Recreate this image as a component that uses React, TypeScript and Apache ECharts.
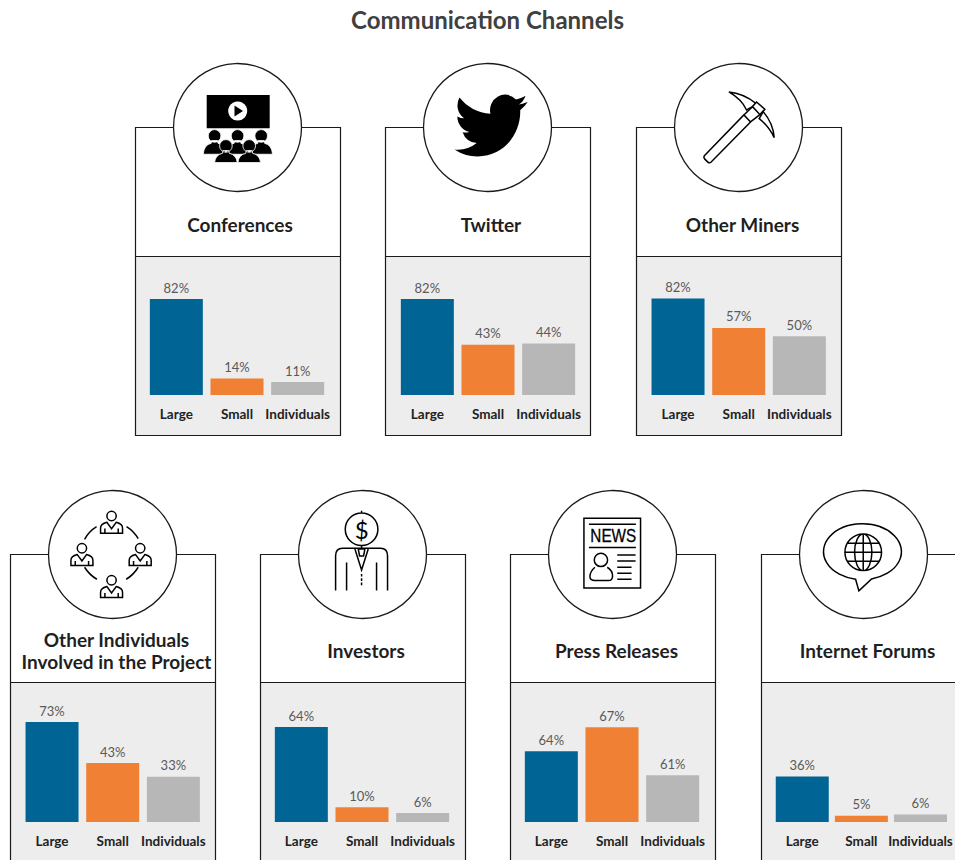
import React, { useEffect, useRef } from "react";
import * as echarts from "echarts";

const chartTitle = "Communication Channels";
const categories = ["Large", "Small", "Individuals"];
const panelTitles = [
  "Conferences",
  "Twitter",
  "Other Miners",
  "Other Individuals\nInvolved in the Project",
  "Investors",
  "Press Releases",
  "Internet Forums",
];
const conferences = [82, 14, 11];
const twitter = [82, 43, 44];
const otherMiners = [82, 57, 50];
const otherIndividuals = [73, 43, 33];
const investors = [64, 10, 6];
const pressReleases = [64, 67, 61];
const internetForums = [36, 5, 6];
const panelValues = [conferences, twitter, otherMiners, otherIndividuals, investors, pressReleases, internetForums];
const barColors = ["#006595", "#F08033", "#B7B7B7"];

// Each small chart in the reference has its own value scale.
const axisMin = [0, 0, 0, 0, 0, 55.15, 0];
const axisMax = [102.5, 102.5, 102, 87.6, 80.9, 70.15, 95];

// Layout
const panelLeft = [135, 385, 636, 10, 260, 510, 761];
const gridLeft = [146, 397, 647.7, 21.7, 271, 521, 772.7];
const titleCenter = [240, 491, 742.5, 116.5, 366, 616.5, 867.5];
const row = [0, 0, 0, 1, 1, 1, 1];
const rowTop = [127.5, 554.5];
const rowDivider = [256.5, 682.5];
const rowBase = [395, 822];
const rowTitleY = [224, 650];
const PANEL_W = 205;
const PANEL_H = 308;
const GRID_H = 120;
const R = 64;

const circle = (cx: number, cy: number, r: number) =>
  `M${cx - r} ${cy} A${r} ${r} 0 1 1 ${cx + r} ${cy} A${r} ${r} 0 1 1 ${cx - r} ${cy} Z `;

const solidPerson = (x: number, y: number, drop: number) =>
  circle(x, y, 19) +
  `M${x - 9} ${y + 14} L${x - 10} ${y + 22} Q${x - 32} ${y + 27} ${x - 34} ${y + drop} L${x + 34} ${y + drop} Q${x + 32} ${y + 27} ${x + 10} ${y + 22} L${x + 9} ${y + 14} Z`;

const outlinePerson = (x: number, y: number) =>
  circle(x, y, 14) +
  `M${x - 33} ${y + 52} L${x - 33} ${y + 36} Q${x - 33} ${y + 24} ${x - 14} ${y + 19} L${x} ${y + 38} L${x + 14} ${y + 19} Q${x + 33} ${y + 24} ${x + 33} ${y + 36} L${x + 33} ${y + 52} Z ` +
  `M${x - 20} ${y + 52} L${x - 20} ${y + 38} M${x + 20} ${y + 52} L${x + 20} ${y + 38} `;

const shapes: Record<string, string> = {
  backCrowd: solidPerson(254, 228, 55) + " " + solidPerson(394, 228, 55) + " " + solidPerson(323, 228, 55),
  frontCrowd: solidPerson(288, 258, 50) + " " + solidPerson(358, 258, 50),
  bird:
    "M23.953 4.57 a10 10 0 0 1 -2.825 .775 a4.958 4.958 0 0 0 2.163 -2.723 c-.951 .555 -2.005 .959 -3.127 1.184 a4.92 4.92 0 0 0 -8.384 4.482 C7.69 8.095 4.067 6.13 1.64 3.162 a4.822 4.822 0 0 0 -.666 2.475 c0 1.71 .87 3.213 2.188 4.096 a4.904 4.904 0 0 1 -2.228 -.616 v.06 a4.923 4.923 0 0 0 3.946 4.827 a4.996 4.996 0 0 1 -2.212 .085 a4.936 4.936 0 0 0 4.604 3.417 a9.867 9.867 0 0 1 -6.102 2.105 c-.39 0 -.779 -.023 -1.17 -.067 a13.995 13.995 0 0 0 7.557 2.209 c9.053 0 13.998 -7.496 13.998 -13.985 c0 -.21 0 -.42 -.015 -.63 A9.935 9.935 0 0 0 24 4.59 z",
  pickHandle:
    "M224 287 L342 165 L362 186 L243 307 Q238 311 233 306 L224 297 Q220 292 224 287 Z M342 165 L368 140 L390 164 L362 186 M368 140 L380 126 L405 148 L390 164",
  pickBlade:
    "M297 96 Q340 100 378 130 L368 140 L350 150 Q335 118 297 96 Z M400 155 Q430 190 433 233 Q418 200 388 176 Z",
  network:
    outlinePerson(335, 108) +
    outlinePerson(246, 205) +
    outlinePerson(421, 205) +
    outlinePerson(335, 301) +
    "M254 178 A105 105 0 0 1 290 140 M380 140 A105 105 0 0 1 415 176 M415 262 A105 105 0 0 1 379 298 M291 298 A105 105 0 0 1 254 262",
  investor:
    circle(275, 148, 49) +
    "M275 92 L275 99 M275 197 L275 204 " +
    "M197 332 L197 228 Q197 205 218 205 L332 205 Q353 205 353 228 L353 332 " +
    "M230 248 L230 332 M320 248 L320 332 " +
    "M255 207 L275 270 L295 207 M265 207 L285 207 L281 228 L269 228 Z " +
    "M275 282 L275 290 M275 295 L275 303 M275 308 L275 316",
  newspaper:
    "M192 115 L362 115 L362 324 L192 324 Z M207 133 L348 133 M207 203 L348 203 " +
    circle(243, 240, 20) +
    "M225 262 Q210 275 210 290 Q210 302 225 302 L265 302 Q278 302 278 288 Q278 272 262 262 " +
    "M292 225 L347 225 M292 243 L347 243 M292 262 L335 262 M292 280 L335 280 M292 298 L335 298",
  bubble:
    "M272 298 A117 84 0 1 1 320 297 L282 333 Z " +
    circle(295, 217, 55) +
    "M295 162 A26 55 0 0 0 295 272 A26 55 0 0 0 295 162 Z M295 162 L295 272 M240 217 L350 217 M248 190 L342 190 M248 244 L342 244",
};
Object.keys(shapes).forEach((name) => {
  echarts.graphic.registerShape(name, echarts.graphic.extendPath(shapes[name], {}));
});

const BLACK = "#000";
const zoomIcon = (type: string, ox: number, oy: number, style: any) => ({
  type,
  x: ox,
  y: oy,
  scaleX: 1 / 3,
  scaleY: 1 / 3,
  style,
});
const line = { fill: "transparent", stroke: BLACK, lineWidth: 4.5 };

const iconElements = (): any[] => [
  { type: "rect", shape: { x: 206.7, y: 95, width: 63, height: 33.3 }, style: { fill: BLACK } },
  { type: "circle", shape: { cx: 237.7, cy: 111, r: 9.5 }, style: { fill: "#fff" } },
  { type: "polygon", shape: { points: [[234.5, 105.5], [243, 111], [234.5, 116.5]] }, style: { fill: BLACK } },
  zoomIcon("backCrowd", 130, 60, { fill: BLACK, stroke: "#fff", lineWidth: 2.5 }),
  zoomIcon("frontCrowd", 130, 60, { fill: BLACK, stroke: "#fff", lineWidth: 2.5 }),
  { type: "bird", x: 454.5, y: 87.5, scaleX: 3.05, scaleY: 3.17, style: { fill: BLACK } },
  zoomIcon("pickBlade", 630, 60, { fill: "#fff", stroke: BLACK, lineWidth: 4.5 }),
  zoomIcon("pickHandle", 630, 60, { fill: "#fff", stroke: BLACK, lineWidth: 4.5 }),
  zoomIcon("network", 0, 480, line),
  zoomIcon("investor", 270, 480, line),
  {
    type: "text",
    style: { x: 361.7, y: 529.5, text: "$", align: "center", verticalAlign: "middle", fontFamily: "Lato", fontSize: 24, fill: BLACK },
  },
  zoomIcon("newspaper", 520, 480, line),
  {
    type: "text",
    x: 613.3,
    y: 536,
    scaleX: 0.85,
    style: {
      x: 0,
      y: 0,
      text: "NEWS",
      align: "center",
      verticalAlign: "middle",
      fontFamily: "'Liberation Sans'",
      fontSize: 18,
      fill: BLACK,
      stroke: BLACK,
      lineWidth: 0.3,
    },
  },
  zoomIcon("bubble", 765, 480, line),
];

export default function App() {
  const ref = useRef<HTMLDivElement>(null);
  useEffect(() => {
    const chart = echarts.init(ref.current!, undefined, { renderer: "svg" });
    const stroke = "#1a1a1a";
    const panels: any[] = [];
    const covers: any[] = [];
    panelLeft.forEach((x, i) => {
      const r = row[i];
      const top = rowTop[r];
      const div = rowDivider[r];
      panels.push(
        { type: "rect", shape: { x: x + 0.5, y: top, width: PANEL_W, height: PANEL_H }, style: { fill: "#fff" } },
        { type: "rect", shape: { x: x + 0.5, y: div, width: PANEL_W, height: top + PANEL_H - div }, style: { fill: "#EDEDED" } },
        { type: "rect", shape: { x: x + 0.5, y: top, width: PANEL_W, height: PANEL_H }, style: { fill: "transparent", stroke, lineWidth: 1.2 } },
        { type: "line", shape: { x1: x + 0.5, y1: div, x2: x + 0.5 + PANEL_W, y2: div }, style: { stroke, lineWidth: 1.2 } }
      );
      covers.push(
        { type: "circle", shape: { cx: x + 102.5, cy: top, r: R }, style: { fill: "#fff", stroke, lineWidth: 1.3 } },
        {
          type: "text",
          style: {
            x: titleCenter[i],
            y: rowTitleY[r],
            text: panelTitles[i],
            align: "center",
            verticalAlign: "middle",
            fontFamily: "Lato",
            fontWeight: "bold",
            fontSize: 19,
            lineHeight: 22,
            fill: "#1f1f1f",
          },
        }
      );
    });

    chart.setOption({
      animation: false,
      title: {
        text: chartTitle,
        left: 482.5,
        top: 2,
        textAlign: "center",
        textStyle: { fontFamily: "Lato", fontWeight: "bold", fontSize: 24, color: "#404040" },
      },
      graphic: { elements: [...panels, ...covers, ...iconElements()] },
      grid: panelLeft.map((_, i) => ({
        left: gridLeft[i],
        width: 182,
        top: rowBase[row[i]] - GRID_H,
        height: GRID_H,
      })),
      xAxis: panelLeft.map((_, i) => ({
        type: "category",
        gridIndex: i,
        data: categories,
        axisLine: { show: false },
        axisTick: { show: false },
        axisLabel: {
          interval: 0,
          margin: 12,
          fontFamily: "Lato",
          fontWeight: "bold",
          fontSize: 13.5,
          color: "#222",
        },
      })),
      yAxis: panelLeft.map((_, i) => ({
        type: "value",
        gridIndex: i,
        show: false,
        min: axisMin[i],
        max: axisMax[i],
        splitLine: { show: false },
      })),
      series: panelValues.map((values, i) => ({
        type: "bar",
        xAxisIndex: i,
        yAxisIndex: i,
        barWidth: 53,
        data: values.map((value, k) => ({ value, itemStyle: { color: barColors[k] } })),
        label: {
          show: true,
          position: "top",
          distance: 5,
          formatter: "{c}%",
          fontFamily: "Lato",
          fontSize: 13,
          color: "#595959",
        },
      })),
    });
    return () => chart.dispose();
  }, []);
  return (
    <div
      ref={ref}
      style={{ position: "absolute", left: 0, top: 0, width: 955, height: 860, overflow: "hidden", background: "#fff" }}
    />
  );
}
